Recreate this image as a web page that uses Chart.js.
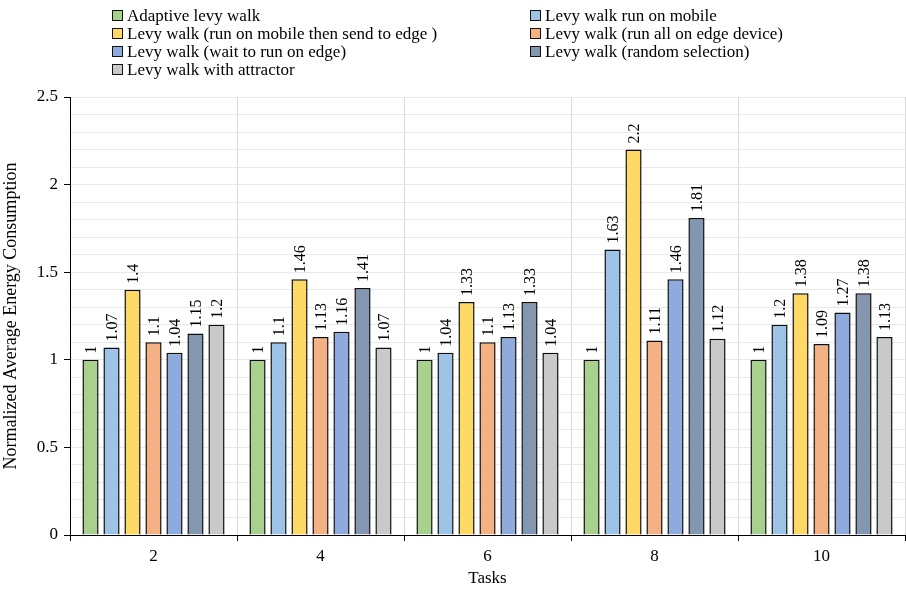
<!DOCTYPE html>
<html>
<head>
<meta charset="utf-8">
<script src="https://cdn.jsdelivr.net/npm/chart.js@4/dist/chart.umd.min.js"></script>
<style>
  html, body { margin: 0; padding: 0; background: #fff; }
  #wrap { width: 906px; height: 589px; position: relative; }
</style>
</head>
<body>
<div id="wrap"><canvas id="c"></canvas></div>
<script>
// Categories (number of tasks) and series values
const tasks = ['2', '4', '6', '8', '10'];

const adaptiveLevy      = [1, 1, 1, 1, 1];
const levyMobile        = [1.07, 1.1, 1.04, 1.63, 1.2];
const levyMobileToEdge  = [1.4, 1.46, 1.33, 2.2, 1.38];
const levyAllEdge       = [1.1, 1.13, 1.1, 1.11, 1.09];
const levyWaitEdge      = [1.04, 1.16, 1.13, 1.46, 1.27];
const levyRandom        = [1.15, 1.41, 1.33, 1.81, 1.38];
const levyAttractor     = [1.2, 1.07, 1.04, 1.12, 1.13];

const seriesNames = [
  'Adaptive levy walk',
  'Levy walk run on mobile',
  'Levy walk (run on mobile then send to edge )',
  'Levy walk (run all on edge device)',
  'Levy walk (wait to run on edge)',
  'Levy walk (random selection)',
  'Levy walk with attractor'
];
const seriesValues = [adaptiveLevy, levyMobile, levyMobileToEdge, levyAllEdge, levyWaitEdge, levyRandom, levyAttractor];
const seriesColors = ['#A9D18E', '#9DC3E6', '#FFD966', '#F4B183', '#8FAADC', '#8497B0', '#C9C9C9'];

const FONT = "'Liberation Serif', 'Times New Roman', serif";

// Rotated value labels above each bar
const valueLabels = {
  id: 'valueLabels',
  afterDatasetsDraw(chart) {
    const ctx = chart.ctx;
    ctx.save();
    ctx.fillStyle = '#000';
    ctx.font = '16px ' + FONT;
    ctx.textAlign = 'left';
    ctx.textBaseline = 'middle';
    chart.data.datasets.forEach((ds, i) => {
      chart.getDatasetMeta(i).data.forEach((bar, j) => {
        ctx.save();
        ctx.translate(bar.x, bar.y - 6);
        ctx.rotate(-Math.PI / 2);
        ctx.fillText(String(ds.data[j]), 0, 1);
        ctx.restore();
      });
    });
    ctx.restore();
  }
};

// Two-column legend at the top
const columnLegend = {
  id: 'columnLegend',
  afterDraw(chart) {
    const ctx = chart.ctx;
    ctx.save();
    ctx.font = '17px ' + FONT;
    ctx.textBaseline = 'middle';
    ctx.textAlign = 'left';
    const colX = [112, 530];
    const rowY = [16, 34, 52, 70];
    chart.data.datasets.forEach((ds, i) => {
      const x = colX[i % 2];
      const y = rowY[Math.floor(i / 2)];
      ctx.fillStyle = ds.backgroundColor;
      ctx.fillRect(x + 0.5, y - 5.5, 10, 10);
      ctx.strokeStyle = '#111';
      ctx.lineWidth = 1;
      ctx.strokeRect(x + 0.5, y - 5.5, 10, 10);
      ctx.fillStyle = '#000';
      ctx.fillText(ds.label, x + 15, y + 1);
    });
    ctx.restore();
  }
};

new Chart(document.getElementById('c'), {
  type: 'bar',
  data: {
    labels: tasks,
    datasets: seriesNames.map((name, i) => ({
      label: name,
      data: seriesValues[i],
      backgroundColor: seriesColors[i],
      borderColor: '#0d0d0d',
      borderWidth: 1.5,
      categoryPercentage: 0.88,
      barPercentage: 0.77
    }))
  },
  options: {
    responsive: true,
    maintainAspectRatio: false,
    animation: false,
    layout: { padding: { top: 97, right: 1, left: 0, bottom: 0 } },
    plugins: {
      legend: { display: false },
      tooltip: { enabled: false }
    },
    scales: {
      x: {
        offset: true,
        grid: {
          offset: true,
          color: '#d9d9d9',
          tickColor: '#000',
          tickLength: 6
        },
        border: { color: '#000', width: 1 },
        ticks: { color: '#000', font: { family: FONT, size: 17 }, padding: 5 },
        title: {
          display: true,
          text: 'Tasks',
          color: '#000',
          font: { family: FONT, size: 17 },
          padding: { top: 7, bottom: 0 }
        },
        afterFit(s) { s.height = 54; }
      },
      y: {
        min: 0,
        max: 2.5,
        ticks: {
          stepSize: 0.1,
          autoSkip: false,
          color: '#000',
          font: { family: FONT, size: 17 },
          padding: 6,
          callback(v) {
            const r = Math.round(v * 10);
            return r % 5 === 0 ? String(r / 10) : '';
          }
        },
        grid: {
          color: '#e9e9e9',
          tickLength: 6,
          tickColor(ctx) {
            const r = Math.round(ctx.tick.value * 10);
            return r % 5 === 0 ? '#000' : 'rgba(0,0,0,0)';
          }
        },
        border: { color: '#000', width: 1 },
        title: {
          display: true,
          text: 'Normalized Average Energy Consumption',
          color: '#000',
          font: { family: FONT, size: 18 },
          padding: { top: 0, bottom: 2 }
        },
        afterFit(s) { s.width = 70; }
      }
    }
  },
  plugins: [valueLabels, columnLegend]
});
</script>
</body>
</html>
